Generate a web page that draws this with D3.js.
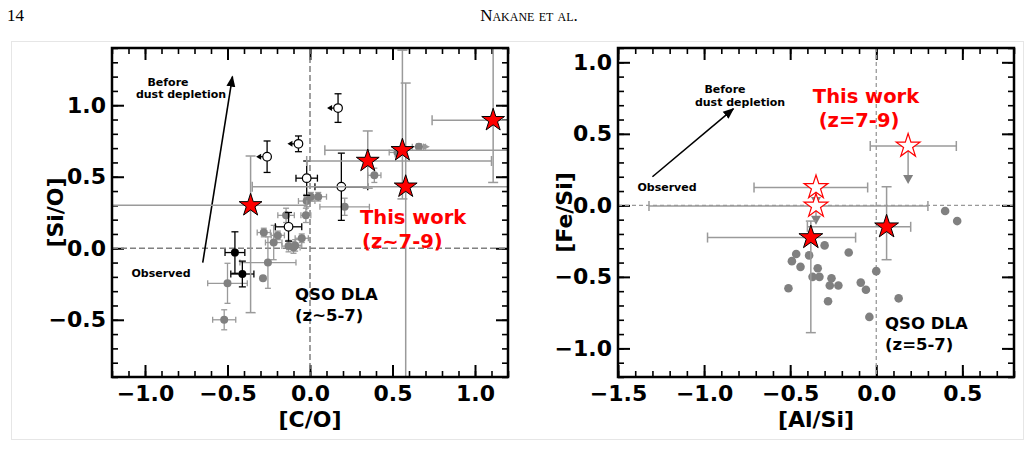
<!DOCTYPE html>
<html>
<head>
<meta charset="utf-8">
<script src="https://cdn.jsdelivr.net/npm/d3@7"></script>
<style>
body { margin: 0; background: #fff; }
svg text { font-family: "DejaVu Sans", sans-serif; font-weight: bold; }
</style>
</head>
<body>
<svg id="fig" width="1028" height="459"></svg>
<script>
// left panel: [C/O] vs [Si/O]
var coTicks = [-1.0, -0.5, 0.0, 0.5, 1.0];
var sioTicks = [-0.5, 0.0, 0.5, 1.0];

// this work (red stars)
var starCO     = [-0.36, 0.35, 0.56, 0.58, 1.11];
var starSiO    = [0.30, 0.61, 0.685, 0.43, 0.895];
var starCOlo   = [0.90, 0.37, 0.47, 0.93, 0.37];
var starCOhi   = [0.34, 0.75, 0.80, 0.80, 0.50];
var starSiOlo  = [0.75, 0.19, 0.34, 1.40, 0.435];
var starSiOhi  = [0.345, 0.21, 0.70, 0.725, 0.60];

// open circles (first three are upper limits in [C/O])
var openCO     = [-0.26, -0.07, 0.17, -0.02, 0.19, -0.13];
var openSiO    = [0.64, 0.73, 0.98, 0.49, 0.43, 0.15];
var openCOerr  = [0, 0, 0, 0.065, 0.16, 0.08];
var openSiOerr = [0.11, 0.055, 0.10, 0.12, 0.235, 0.10];
var openUplim  = [true, true, true, false, false, false];

// black filled circles
var blackCO     = [-0.455, -0.41];
var blackSiO    = [-0.03, -0.18];
var blackCOerr  = [0.06, 0.07];
var blackSiOerr = [0.145, 0.09];

// QSO DLA (grey)
var dlaCO     = [-0.52, -0.50, -0.285, -0.255, -0.28, -0.195, -0.22, -0.13, -0.09, -0.10, -0.05, -0.145, -0.025, -0.02, 0.005, 0.05, 0.21, 0.39, 0.66, 0.53];
var dlaSiO    = [-0.50, -0.245, -0.21, -0.10, 0.11, 0.09, 0.04, 0.015, 0.02, 0.005, 0.07, 0.23, 0.23, 0.33, 0.36, 0.36, 0.29, 0.51, 0.71, 0.67];
var dlaCOerr  = [0.07, 0.12, 0.0, 0.17, 0.04, 0.04, 0.05, 0.04, 0.04, 0.04, 0.04, 0.05, 0.03, 0.05, 0.04, 0.05, 0.15, 0.04, 0.04, 0.05];
var dlaSiOerr = [0.07, 0.14, 0.0, 0.18, 0.03, 0.03, 0.12, 0.04, 0.04, 0.04, 0.03, 0.05, 0.05, 0.04, 0.03, 0.03, 0.06, 0.05, 0.02, 0.03];
var dlaCOlowlim = 18;

// right panel: [Al/Si] vs [Fe/Si]
var alTicks = [-1.5, -1.0, -0.5, 0.0, 0.5];
var feTicks = [-1.0, -0.5, 0.0, 0.5, 1.0];

var dlaAl = [0.40, 0.47, -0.30, -0.16, -0.465, -0.39, -0.49, -0.44, -0.34, -0.37, -0.33, -0.26, -0.27, -0.22, -0.09, -0.06, 0.0, -0.51, -0.28, 0.13, -0.04];
var dlaFe = [-0.04, -0.11, -0.28, -0.33, -0.34, -0.35, -0.39, -0.43, -0.44, -0.50, -0.50, -0.51, -0.56, -0.56, -0.54, -0.59, -0.46, -0.58, -0.67, -0.65, -0.78];

var starAl   = [-0.38, 0.06];
var starFe   = [-0.225, -0.15];
var starAlLo = [0.60, 0.46];
var starAlHi = [0.26, 0.14];
var starFeLo = [0.665, 0.23];
var starFeHi = [0.115, 0.28];

// open stars: upper limits in [Fe/Si]
var limAl    = [0.185, -0.35, -0.35];
var limFe    = [0.415, 0.125, -0.005];
var limAlLo  = [0.22, 0.36, 0.97];
var limAlHi  = [0.28, 0.30, 0.65];
var limArrow = [0.265, 0.13, 0.13];

var svg = d3.select("#fig");
var fmt = d3.format(".1f");
var errGrey = "#9a9a9a", ptGrey = "#808080";

// page header and the light frame of the figure
svg.append("rect").attr("x", 11.5).attr("y", 41.5).attr("width", 1012).attr("height", 398)
  .attr("fill", "none").attr("stroke", "#e6e6e6");
svg.append("text").attr("x", 7).attr("y", 21).text("14")
  .style("font-family", "Liberation Serif, serif").style("font-weight", "normal").style("font-size", "17px");
svg.append("text").attr("x", 529).attr("y", 21).attr("text-anchor", "middle").text("Nakane et al.")
  .style("font-family", "Liberation Serif, serif").style("font-weight", "normal").style("font-size", "17px")
  .style("font-variant", "small-caps");

var defs = svg.append("defs");
defs.append("marker").attr("id", "head").attr("viewBox", "0 0 10 10").attr("refX", 9).attr("refY", 5)
  .attr("markerWidth", 7).attr("markerHeight", 7).attr("orient", "auto")
  .append("path").attr("d", "M0,1L10,5L0,9Z").attr("fill", "#000");

function starPath(R) {
  var r = R * 0.382, pts = [];
  for (var i = 0; i < 10; i++) {
    var a = -Math.PI / 2 + i * Math.PI / 5, rr = i % 2 ? r : R;
    pts.push([(rr * Math.cos(a)).toFixed(2), (rr * Math.sin(a)).toFixed(2)]);
  }
  return "M" + pts.join("L") + "Z";
}

function makePanel(o) {
  var x = d3.scaleLinear().domain(o.xDom).range([o.left, o.right]);
  var y = d3.scaleLinear().domain(o.yDom).range([o.bottom, o.top]);
  var g = svg.append("g");
  var minX = d3.range(Math.ceil(o.xDom[0] * 10), Math.floor(o.xDom[1] * 10) + 1).map(function(d) { return d / 10; });
  var minY = d3.range(Math.ceil(o.yDom[0] * 10), Math.floor(o.yDom[1] * 10) + 1).map(function(d) { return d / 10; });

  var axes = [
    [d3.axisBottom(x), "translate(0," + o.bottom + ")", o.xTicks, minX, true, 8],
    [d3.axisTop(x), "translate(0," + o.top + ")", o.xTicks, minX, false, 6],
    [d3.axisLeft(y), "translate(" + o.left + ",0)", o.yTicks, minY, true, 6],
    [d3.axisRight(y), "translate(" + o.right + ",0)", o.yTicks, minY, false, 6]
  ];
  axes.forEach(function(a) {
    // minor ticks every 0.1
    g.append("g").attr("transform", a[1])
      .call(a[0].tickValues(a[3]).tickSize(-6).tickFormat(""))
      .call(function(s) { s.select(".domain").remove(); s.selectAll("line").attr("stroke-width", 1.6); });
    var ax = a[0].tickValues(a[2]).tickSize(-12).tickPadding(a[5]).tickFormat(a[4] ? fmt : "");
    g.append("g").attr("transform", a[1]).call(ax)
      .call(function(s) {
        s.select(".domain").remove();
        s.selectAll("line").attr("stroke-width", 2);
        s.selectAll("text").attr("font-size", 22).attr("font-family", null).attr("fill", "#000");
      });
  });

  var id = "clip" + o.left;
  defs.append("clipPath").attr("id", id).append("rect")
    .attr("x", o.left).attr("y", o.top).attr("width", o.right - o.left).attr("height", o.bottom - o.top);
  var plot = svg.append("g").attr("clip-path", "url(#" + id + ")");

  // frame drawn later on top
  function frame() {
    svg.append("rect").attr("x", o.left).attr("y", o.top).attr("width", o.right - o.left)
      .attr("height", o.bottom - o.top).attr("fill", "none").attr("stroke", "#000").attr("stroke-width", 2.5);
  }

  svg.append("text").attr("x", (o.left + o.right) / 2).attr("y", o.bottom + 50).attr("text-anchor", "middle")
    .attr("font-size", 22).text(o.xLabel);
  svg.append("text").attr("transform", "translate(" + o.yLabelX + "," + (o.top + o.bottom) / 2 + ") rotate(-90)")
    .attr("text-anchor", "middle").attr("font-size", 22).text(o.yLabel);

  return { x: x, y: y, plot: plot, frame: frame };
}

function errBar(g, px, py, xlo, xhi, ylo, yhi, col, w, cap) {
  var e = g.append("g").attr("stroke", col).attr("stroke-width", w).attr("fill", "none");
  if (xlo || xhi) {
    e.append("line").attr("x1", px - xlo).attr("x2", px + xhi).attr("y1", py).attr("y2", py);
    if (xlo) e.append("line").attr("x1", px - xlo).attr("x2", px - xlo).attr("y1", py - cap).attr("y2", py + cap);
    if (xhi) e.append("line").attr("x1", px + xhi).attr("x2", px + xhi).attr("y1", py - cap).attr("y2", py + cap);
  }
  if (ylo || yhi) {
    e.append("line").attr("x1", px).attr("x2", px).attr("y1", py - yhi).attr("y2", py + ylo);
    if (yhi) e.append("line").attr("x1", px - cap).attr("x2", px + cap).attr("y1", py - yhi).attr("y2", py - yhi);
    if (ylo) e.append("line").attr("x1", px - cap).attr("x2", px + cap).attr("y1", py + ylo).attr("y2", py + ylo);
  }
}

// ---------- left panel ----------
var L = makePanel({ xDom: [-1.2, 1.2], yDom: [-0.9, 1.4], left: 112, right: 508, top: 48, bottom: 377,
  xTicks: coTicks, yTicks: sioTicks, xLabel: "[C/O]", yLabel: "[Si/O]", yLabelX: 63 });
var lx = L.x, ly = L.y, lp = L.plot;
var sx = function(v) { return lx(v) - lx(0); }, sy = function(v) { return ly(0) - ly(v); };

lp.append("line").attr("x1", lx(0)).attr("x2", lx(0)).attr("y1", ly(1.4)).attr("y2", ly(-0.9))
  .attr("stroke", "#808080").attr("stroke-width", 1.5).attr("stroke-dasharray", "6,3");
lp.append("line").attr("x1", lx(-1.2)).attr("x2", lx(1.2)).attr("y1", ly(0)).attr("y2", ly(0))
  .attr("stroke", "#808080").attr("stroke-width", 1.5).attr("stroke-dasharray", "6,3");

// dust depletion arrow
lp.append("line").attr("x1", lx(-0.65)).attr("y1", ly(-0.10)).attr("x2", lx(-0.47)).attr("y2", ly(1.20))
  .attr("stroke", "#000").attr("stroke-width", 1.6).attr("marker-end", "url(#head)");
svg.append("text").attr("x", 168).attr("y", 86).attr("text-anchor", "middle").attr("font-size", 11).text("Before");
svg.append("text").attr("x", 181).attr("y", 98).attr("text-anchor", "middle").attr("font-size", 11).text("dust depletion");
svg.append("text").attr("x", 161).attr("y", 277).attr("text-anchor", "middle").attr("font-size", 11).text("Observed");

// QSO DLAs
dlaCO.forEach(function(v, i) {
  errBar(lp, lx(v), ly(dlaSiO[i]), sx(dlaCOerr[i]), sx(dlaCOerr[i]), sy(dlaSiOerr[i]), sy(dlaSiOerr[i]), errGrey, 1.3, 3);
});
var lim = dlaCOlowlim;
lp.append("path").attr("d", "M" + (lx(dlaCO[lim]) + 4) + "," + (ly(dlaSiO[lim]) - 3.5) + "l7,3.5l-7,3.5Z").attr("fill", errGrey);
lp.selectAll("circle.dla").data(dlaCO).enter().append("circle").attr("class", "dla")
  .attr("cx", function(d) { return lx(d); }).attr("cy", function(d, i) { return ly(dlaSiO[i]); })
  .attr("r", 4).attr("fill", ptGrey);

// black filled circles
blackCO.forEach(function(v, i) {
  errBar(lp, lx(v), ly(blackSiO[i]), sx(blackCOerr[i]), sx(blackCOerr[i]), sy(blackSiOerr[i]), sy(blackSiOerr[i]), "#000", 1.3, 3.5);
  lp.append("circle").attr("cx", lx(v)).attr("cy", ly(blackSiO[i])).attr("r", 4).attr("fill", "#000");
});

// open circles
openCO.forEach(function(v, i) {
  var px = lx(v), py = ly(openSiO[i]);
  errBar(lp, px, py, sx(openCOerr[i]), sx(openCOerr[i]), sy(openSiOerr[i]), sy(openSiOerr[i]), "#000", 1.3, 3.5);
  if (openUplim[i]) {
    lp.append("line").attr("x1", px).attr("x2", px - 7).attr("y1", py).attr("y2", py).attr("stroke", "#000").attr("stroke-width", 1.3);
    lp.append("path").attr("d", "M" + (px - 11) + "," + py + "l5,-3l0,6Z").attr("fill", "#000");
  }
  lp.append("circle").attr("cx", px).attr("cy", py).attr("r", 4.3).attr("fill", "#fff").attr("stroke", "#000").attr("stroke-width", 1.2);
});

// this work
starCO.forEach(function(v, i) {
  errBar(lp, lx(v), ly(starSiO[i]), sx(starCOlo[i]), sx(starCOhi[i]), sy(starSiOlo[i]), sy(starSiOhi[i]), errGrey, 1.5, 5);
});
lp.selectAll("path.star").data(starCO).enter().append("path").attr("class", "star")
  .attr("transform", function(d, i) { return "translate(" + lx(d) + "," + ly(starSiO[i]) + ")"; })
  .attr("d", starPath(12)).attr("fill", "#ff0000").attr("stroke", "#000").attr("stroke-width", 1);

svg.append("text").attr("x", 360).attr("y", 224).attr("font-size", 19.5).attr("fill", "#ff0000").text("This work");
svg.append("text").attr("x", 362).attr("y", 248).attr("font-size", 19.5).attr("fill", "#ff0000").text("(z~7-9)");
svg.append("text").attr("x", 295).attr("y", 300).attr("font-size", 16.5).text("QSO DLA");
svg.append("text").attr("x", 295).attr("y", 321).attr("font-size", 16.5).text("(z~5-7)");
L.frame();

// ---------- right panel ----------
var R = makePanel({ xDom: [-1.5, 0.8], yDom: [-1.2, 1.1], left: 618, right: 1014, top: 48, bottom: 377,
  xTicks: alTicks, yTicks: feTicks, xLabel: "[Al/Si]", yLabel: "[Fe/Si]", yLabelX: 572 });
var rx = R.x, ry = R.y, rp = R.plot;
var tx = function(v) { return rx(v) - rx(0); }, ty = function(v) { return ry(0) - ry(v); };

rp.append("line").attr("x1", rx(0)).attr("x2", rx(0)).attr("y1", ry(1.1)).attr("y2", ry(-1.2))
  .attr("stroke", "#999").attr("stroke-width", 1.3).attr("stroke-dasharray", "4,3");
rp.append("line").attr("x1", rx(-1.5)).attr("x2", rx(0.8)).attr("y1", ry(0)).attr("y2", ry(0))
  .attr("stroke", "#999").attr("stroke-width", 1.3).attr("stroke-dasharray", "4,3");

rp.append("line").attr("x1", rx(-1.30)).attr("y1", ry(0.20)).attr("x2", rx(-0.83)).attr("y2", ry(0.675))
  .attr("stroke", "#000").attr("stroke-width", 1.6).attr("marker-end", "url(#head)");
svg.append("text").attr("x", 725).attr("y", 93).attr("text-anchor", "middle").attr("font-size", 11).text("Before");
svg.append("text").attr("x", 740).attr("y", 106).attr("text-anchor", "middle").attr("font-size", 11).text("dust depletion");
svg.append("text").attr("x", 667).attr("y", 191).attr("text-anchor", "middle").attr("font-size", 11).text("Observed");

rp.selectAll("circle.dla").data(dlaAl).enter().append("circle").attr("class", "dla")
  .attr("cx", function(d) { return rx(d); }).attr("cy", function(d, i) { return ry(dlaFe[i]); })
  .attr("r", 4.3).attr("fill", ptGrey);

// upper limits (open stars)
limAl.forEach(function(v, i) {
  var px = rx(v), py = ry(limFe[i]);
  errBar(rp, px, py, tx(limAlLo[i]), tx(limAlHi[i]), 0, 0, errGrey, 1.5, 5);
  var tip = ry(limFe[i] - limArrow[i]);
  rp.append("line").attr("x1", px).attr("x2", px).attr("y1", py).attr("y2", tip - 6).attr("stroke", errGrey).attr("stroke-width", 1.5);
  rp.append("path").attr("d", "M" + (px - 5) + "," + (tip - 9) + "l10,0l-5,9Z").attr("fill", "#808080");
});
limAl.forEach(function(v, i) {
  rp.append("path").attr("transform", "translate(" + rx(v) + "," + ry(limFe[i]) + ")")
    .attr("d", starPath(12.5)).attr("fill", "#fff").attr("stroke", "#ff0000").attr("stroke-width", 1.2);
});

starAl.forEach(function(v, i) {
  errBar(rp, rx(v), ry(starFe[i]), tx(starAlLo[i]), tx(starAlHi[i]), ty(starFeLo[i]), ty(starFeHi[i]), errGrey, 1.5, 5);
});
rp.selectAll("path.star").data(starAl).enter().append("path").attr("class", "star")
  .attr("transform", function(d, i) { return "translate(" + rx(d) + "," + ry(starFe[i]) + ")"; })
  .attr("d", starPath(12.5)).attr("fill", "#ff0000").attr("stroke", "#000").attr("stroke-width", 1);

svg.append("text").attr("x", 866).attr("y", 103).attr("text-anchor", "middle").attr("font-size", 19.5).attr("fill", "#ff0000").text("This work");
svg.append("text").attr("x", 859).attr("y", 127).attr("text-anchor", "middle").attr("font-size", 19.5).attr("fill", "#ff0000").text("(z=7-9)");
svg.append("text").attr("x", 885).attr("y", 329).attr("font-size", 16.5).text("QSO DLA");
svg.append("text").attr("x", 885).attr("y", 350).attr("font-size", 16.5).text("(z=5-7)");
R.frame();
</script>
</body>
</html>
